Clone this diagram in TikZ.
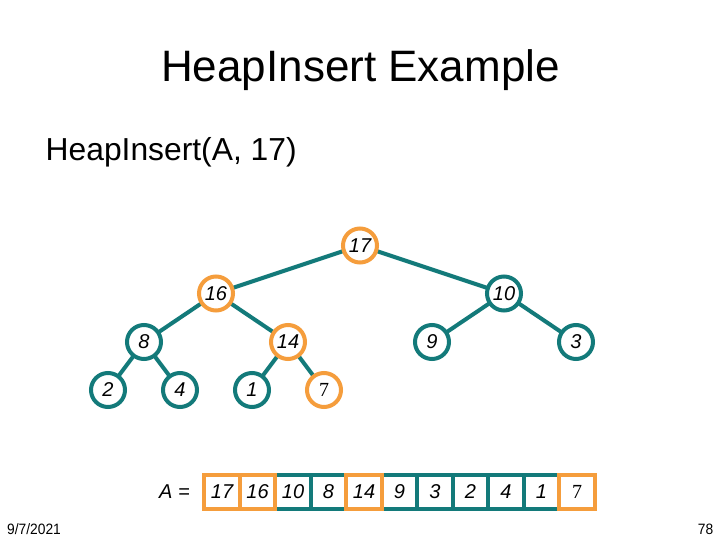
\documentclass[tikz,border=0pt]{standalone}
\usepackage{fontspec}
\setmainfont{Liberation Sans}
\newfontfamily\serifdigit{Liberation Serif}
\definecolor{tealc}{RGB}{19,122,122}
\definecolor{orng}{RGB}{245,157,60}
\pgfdeclarelayer{bg}
\pgfsetlayers{bg,main}
\tikzset{
  hnode/.style={circle, draw=tealc, line width=4pt, fill=white, minimum size=34pt, inner sep=0pt, font=\fontsize{20}{20}\selectfont\itshape},
  hot/.style={draw=orng},
  edge/.style={draw=tealc, line width=4pt},
  cell/.style={draw=tealc, line width=4pt, fill=white, minimum width=35.5pt, minimum height=34pt, inner sep=0pt, outer sep=0pt, font=\fontsize{20}{20}\selectfont\itshape},
  sdig/.style={font=\fontsize{20}{20}\serifdigit},
  foot/.style={inner sep=0pt, font=\fontsize{15}{15}\selectfont},
}
\begin{document}
\begin{tikzpicture}[x=1pt,y=-1pt]
\useasboundingbox (0,0) rectangle (720,540);
\begin{pgfonlayer}{bg}
\fill[white] (0,0) rectangle (720,540);
\end{pgfonlayer}
% title
\node[anchor=base, inner sep=0pt, font=\fontsize{44}{44}\selectfont] (title) at (360.5,82) {HeapInsert Example};
\node[anchor=base west, inner sep=0pt, font=\fontsize{31.8}{31.8}\selectfont] (sub) at (45.5,161) {HeapInsert(A, 17)};
% tree nodes
\node[hnode, hot] (n17) at (360,245.5) {17};
\node[hnode, hot] (n16) at (216,293.5) {16};
\node[hnode] (n10) at (504,293.5) {10};
\node[hnode] (n8) at (144,342) {8};
\node[hnode, hot] (n14) at (288,342) {14};
\node[hnode] (n9) at (432,342) {9};
\node[hnode] (n3) at (576,342) {3};
\node[hnode] (n2) at (108,390) {2};
\node[hnode] (n4) at (180,390) {4};
\node[hnode] (n1) at (252,390) {1};
\node[hnode, hot, sdig] (n7) at (324,390) {7};
% edges
\begin{pgfonlayer}{bg}
\draw[edge] (n17.center) -- (n16.center);
\draw[edge] (n17.center) -- (n10.center);
\draw[edge] (n16.center) -- (n8.center);
\draw[edge] (n16.center) -- (n14.center);
\draw[edge] (n10.center) -- (n9.center);
\draw[edge] (n10.center) -- (n3.center);
\draw[edge] (n8.center) -- (n2.center);
\draw[edge] (n8.center) -- (n4.center);
\draw[edge] (n14.center) -- (n1.center);
\draw[edge] (n14.center) -- (n7.center);
\end{pgfonlayer}
% array
\node[anchor=base east, inner sep=0pt, font=\fontsize{20}{20}\selectfont\itshape] (alabel) at (190,498.5) {A =};
\node[cell] (c3) at (293.05,491.7) {10};
\node[cell] (c4) at (328.55,491.7) {8};
\node[cell] (c6) at (399.55,491.7) {9};
\node[cell] (c7) at (435.05,491.7) {3};
\node[cell] (c8) at (470.55,491.7) {2};
\node[cell] (c9) at (506.05,491.7) {4};
\node[cell] (c10) at (541.55,491.7) {1};
\node[cell, hot] (c1) at (222.05,491.7) {17};
\node[cell, hot] (c2) at (257.55,491.7) {16};
\node[cell, hot] (c5) at (364.05,491.7) {14};
\node[cell, hot, sdig] (c11) at (577.05,491.7) {7};
% footer
\node[foot, anchor=base west] (date) at (7,534) {\scalebox{0.92}[1]{9/7/2021}};
\node[foot, anchor=base east] (page) at (713.5,534) {\scalebox{0.92}[1]{78}};
\end{tikzpicture}
\end{document}
